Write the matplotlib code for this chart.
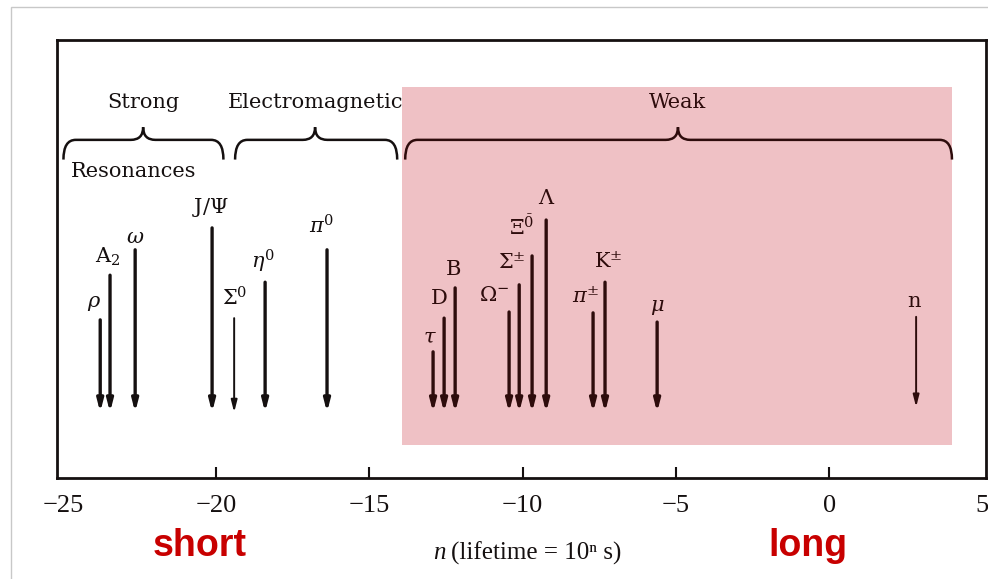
import numpy as np
import matplotlib
matplotlib.use("Agg")
import matplotlib.pyplot as plt
from matplotlib.path import Path
from matplotlib.patches import PathPatch, Rectangle

# particle lifetimes: n where lifetime = 10^n s
names = [r"$\rho$", r"A$_2$", r"$\omega$", r"J/$\Psi$", r"$\Sigma^0$", r"$\eta^0$", r"$\pi^0$",
         r"$\tau$", "D", "B", r"$\Omega^{-}$", r"$\Sigma^{\pm}$", r"$\Xi^{\bar{0}}$", r"$\Lambda$",
         r"$\pi^{\pm}$", r"K$^{\pm}$", r"$\mu$", "n"]
n_vals = [-23.78, -23.46, -22.64, -20.13, -19.41, -18.40, -16.38,
          -12.92, -12.56, -12.20, -10.44, -10.11, -9.69, -9.23,
          -7.70, -7.31, -5.61, 2.84]
tops = [3.61, 4.63, 5.21, 5.71, 3.65, 4.47, 5.21,
        2.88, 3.65, 4.34, 3.79, 4.41, 5.07, 5.89,
        3.77, 4.47, 3.56, 3.68]
bottoms = [1.5] * 17 + [1.62]

# label offsets from arrow top, in pixels
label_off = [(-6, 16), (-2, 18), (0, 12), (-2, 20), (1, 20), (-2, 21), (-5, 24),
             (-3, 15), (-5, 20), (-2, 18), (-15, 16), (-7, 22), (-10, 29), (1, 22),
             (-7, 16), (3, 21), (0, 15), (-2, 15)]
thin = {r"$\Sigma^0$", "n"}

# interaction groups: label, brace start, brace end, brace tip
groups = ["Strong", "Electromagnetic", "Weak"]
g_lo = [-24.98, -19.38, -13.83]
g_hi = [-19.76, -14.09, 4.01]
g_tip = [-22.38, -16.77, -4.93]

weak_box = (-13.93, 4.01, 0.75, 8.93)

ticks = [-25, -20, -15, -10, -5, 0, 5]

plt.rcParams['mathtext.fontset'] = 'dejavuserif'
serif = "DejaVu Serif"
ink = "#151010"
weak_ink = "#2e0c0c"

fig = plt.figure(figsize=(9.88, 5.79), dpi=100)
ax = fig.add_axes([57/988, 1 - 478/579, (986 - 57)/988, (478 - 40)/579])
ax.set_xlim(-25.19, 5.12)
ax.set_ylim(0, 10)

# pink region for weak decays
x0, x1, y0, y1 = weak_box
ax.add_patch(Rectangle((x0, y0), x1 - x0, y1 - y0, facecolor="#efc1c5", edgecolor="none", zorder=0))


def brace(xa, xb, xt, y, col):
    rx, he, ht = 0.4, 0.45, 0.29
    verts = [(xa, y - he), (xa, y), (xa + rx, y),
             (xt - rx, y), (xt, y), (xt, y + ht),
             (xt, y), (xt + rx, y),
             (xb - rx, y), (xb, y), (xb, y - he)]
    codes = [Path.MOVETO, Path.CURVE3, Path.CURVE3,
             Path.LINETO, Path.CURVE3, Path.CURVE3,
             Path.CURVE3, Path.CURVE3,
             Path.LINETO, Path.CURVE3, Path.CURVE3]
    ax.add_patch(PathPatch(Path(verts, codes), facecolor="none", edgecolor=col, lw=1.8, zorder=3))


for i in range(len(groups)):
    col = weak_ink if groups[i] == "Weak" else ink
    brace(g_lo[i], g_hi[i], g_tip[i], 7.72, col)
    ax.text(g_tip[i], 8.58, groups[i], ha="center", va="center", fontsize=15,
            family=serif, color=col)
ax.text(-22.7, 6.99, "Resonances", ha="center", va="center", fontsize=15, family=serif, color=ink)

for i in range(len(names)):
    col = weak_ink if n_vals[i] > x0 else ink
    lw = 1.4 if names[i] in thin else 2.4
    ax.annotate("", xy=(n_vals[i], bottoms[i]), xytext=(n_vals[i], tops[i]),
                arrowprops=dict(arrowstyle="-|>,head_length=0.7,head_width=0.18", lw=lw,
                                color=col, shrinkA=0, shrinkB=0), zorder=4)
    ax.annotate(names[i], xy=(n_vals[i], tops[i]), xytext=label_off[i],
                textcoords="offset pixels", ha="center", va="center",
                fontsize=15, family=serif, color=col)

ax.set_xticks(ticks)
ax.set_xticklabels([str(t).replace("-", "\u2212") for t in ticks],
                   family="Liberation Serif", fontsize=19)
ax.set_yticks([])
ax.tick_params(axis="x", direction="in", length=8, width=1.5, pad=12, colors=ink)
# the end ticks sit on the frame
for t in [ax.xaxis.get_major_ticks()[0], ax.xaxis.get_major_ticks()[-1]]:
    t.tick1line.set_visible(False)
for s in ax.spines.values():
    s.set_linewidth(2)
    s.set_color(ink)

fig.text(446/988, 1 - 553/579, "n", ha="right", va="center", fontsize=18, style="italic",
         family=["Liberation Serif", "DejaVu Serif"], color=ink)
fig.text(451/988, 1 - 553/579, "(lifetime = 10\u207f s)", ha="left", va="center", fontsize=18,
         family=["Liberation Serif", "DejaVu Serif"], color=ink)
fig.text(200/988, 1 - 546/579, "short", ha="center", va="center", fontsize=27,
         fontweight="bold", family="Liberation Sans", color="#c80000")
fig.text(808/988, 1 - 546/579, "long", ha="center", va="center", fontsize=27,
         fontweight="bold", family="Liberation Sans", color="#c80000")

# light frame of the slide
fig.add_artist(Rectangle((11/988, -0.05), 1.2, 1 - 7/579 + 0.05, transform=fig.transFigure,
                         fill=False, edgecolor="#c8c8c8", lw=1))

fig.savefig("out.png", dpi=100)
